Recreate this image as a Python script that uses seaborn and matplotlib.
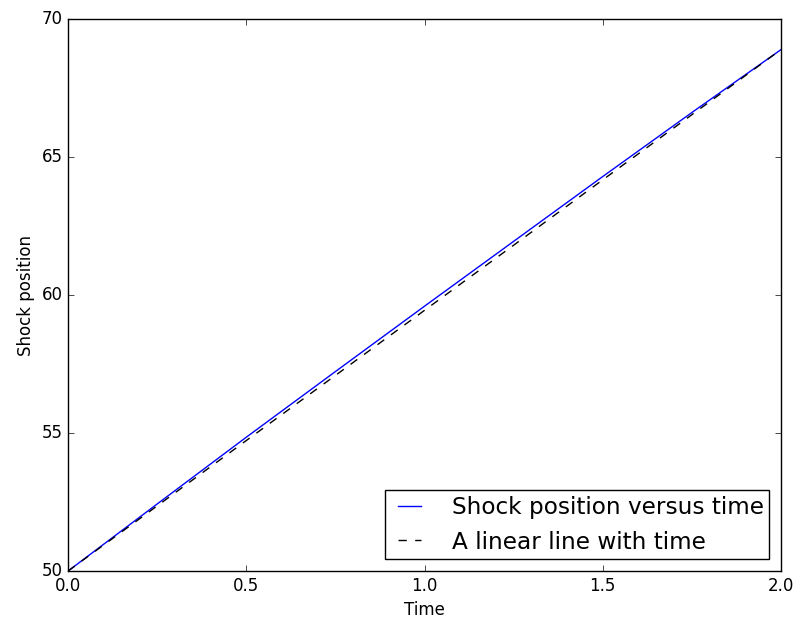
import matplotlib
matplotlib.use("Agg")
import matplotlib.pyplot as plt
import seaborn as sns
import pandas as pd

# values
time = [0.0, 0.25, 0.5, 0.75, 1.0, 1.25, 1.5, 1.75, 2.0]
shock_pos = [50.0, 52.43, 54.85, 57.23, 59.60, 61.95, 64.30, 66.62, 68.9]
linear_pos = [50.0, 52.36, 54.73, 57.09, 59.45, 61.81, 64.18, 66.54, 68.9]

df = pd.DataFrame({"time": time, "shock": shock_pos, "linear": linear_pos})

plt.style.use("classic")
plt.rcParams["font.family"] = ["DejaVu Sans"]

fig = plt.figure(figsize=(8.01, 6.22), dpi=100, facecolor="white")
ax = fig.add_axes([0.085, 0.082, 0.89, 0.887])

sns.lineplot(data=df, x="time", y="shock", ax=ax, color="b", lw=1.0,
             label="Shock position versus time")
sns.lineplot(data=df, x="time", y="linear", ax=ax, color="k", lw=1.0,
             linestyle="--", label="A linear line with time")

ax.set_xlim(0, 2)
ax.set_ylim(50, 70)
ax.set_xticks([0.0, 0.5, 1.0, 1.5, 2.0])
ax.set_yticks([50, 55, 60, 65, 70])
ax.set_xlabel("Time", fontsize=12)
ax.set_ylabel("Shock position", fontsize=12)
ax.legend(loc="lower right", fontsize=16.7, handlelength=1.6,
          handletextpad=1.0, borderpad=0.25)

fig.savefig("out.png", dpi=100, facecolor="white")
